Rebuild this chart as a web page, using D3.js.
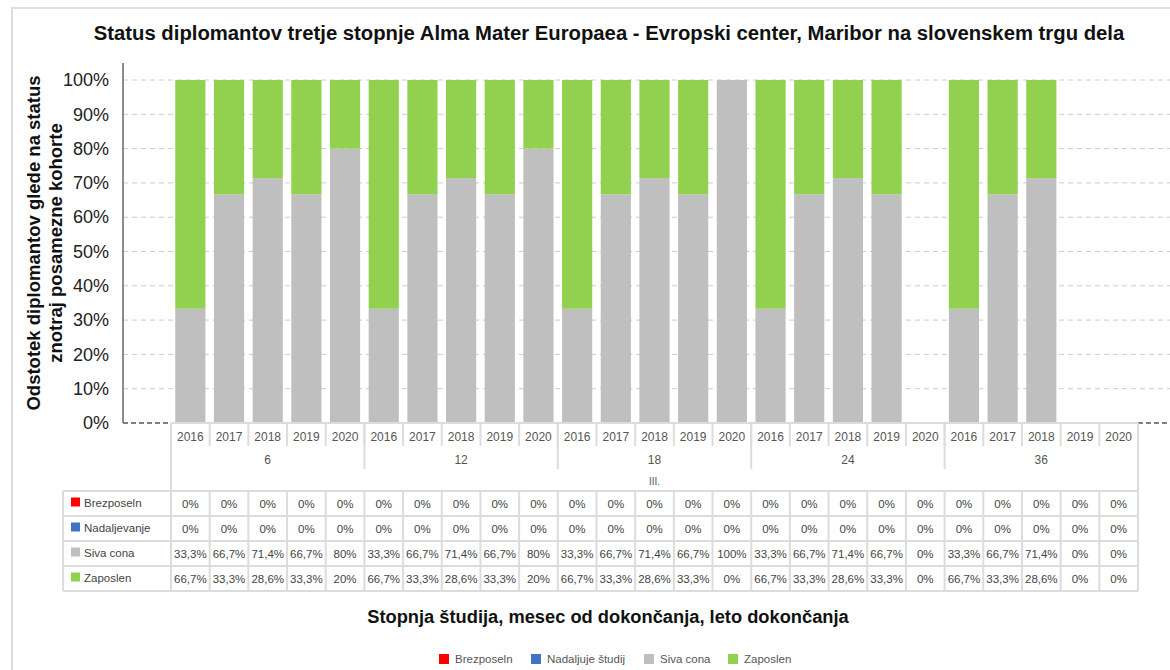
<!DOCTYPE html>
<html>
<head>
<meta charset="utf-8">
<script src="https://cdn.jsdelivr.net/npm/d3@7"></script>
<style>
  body { margin: 0; background: #fff; }
  text { font-family: "Liberation Sans", Arial, sans-serif; }
</style>
</head>
<body>
<div id="viz"></div>
<script>
// data (percent)
var level  = "III.";
var months = ["6", "12", "18", "24", "36"];
var years  = ["2016", "2017", "2018", "2019", "2020"];

var brezposeln   = [0,0,0,0,0, 0,0,0,0,0, 0,0,0,0,0, 0,0,0,0,0, 0,0,0,0,0];
var nadaljevanje = [0,0,0,0,0, 0,0,0,0,0, 0,0,0,0,0, 0,0,0,0,0, 0,0,0,0,0];
var sivaCona     = [33.3,66.7,71.4,66.7,80, 33.3,66.7,71.4,66.7,80, 33.3,66.7,71.4,66.7,100, 33.3,66.7,71.4,66.7,0, 33.3,66.7,71.4,0,0];
var zaposlen     = [66.7,33.3,28.6,33.3,20, 66.7,33.3,28.6,33.3,20, 66.7,33.3,28.6,33.3,0, 66.7,33.3,28.6,33.3,0, 66.7,33.3,28.6,0,0];

var seriesNames  = ["Brezposeln", "Nadaljevanje", "Siva cona", "Zaposlen"];
var legendNames  = ["Brezposeln", "Nadaljuje študij", "Siva cona", "Zaposlen"];
var seriesColors = ["#ff0000", "#4472c4", "#bfbfbf", "#92d050"];
var yTicks = [0, 10, 20, 30, 40, 50, 60, 70, 80, 90, 100];

var title  = "Status diplomantov tretje stopnje Alma Mater Europaea - Evropski center, Maribor na slovenskem trgu dela";
var yTitle = ["Odstotek diplomantov glede na status", "znotraj posamezne kohorte"];
var xTitle = "Stopnja študija, mesec od dokončanja, leto dokončanja";

// build rows
var cols = [];
months.forEach(function(m, mi) {
  years.forEach(function(y, yi) {
    var i = mi * years.length + yi;
    cols.push({ key: m + "-" + y, month: m, year: y,
      "Brezposeln": brezposeln[i], "Nadaljevanje": nadaljevanje[i],
      "Siva cona": sivaCona[i], "Zaposlen": zaposlen[i] });
  });
});
var seriesValues = [brezposeln, nadaljevanje, sivaCona, zaposlen];

var W = 1170, H = 670;
var svg = d3.select("#viz").append("svg")
    .attr("width", W)
    .attr("height", H);

// outer frame
svg.append("path")
    .attr("d", "M12,680 L12,8 L1180,8")
    .style("fill", "none")
    .style("stroke", "#dddddd")
    .style("stroke-width", 2);

var tableLeft = 171, tableRight = 1138;
var axisX = 123, yTop = 80, yBottom = 423;

var x = d3.scaleBand()
    .domain(cols.map(function(d) { return d.key; }))
    .range([tableLeft, tableRight])
    .paddingInner(0.22)
    .paddingOuter(0.11);
var step = x.step();
function cellLeft(k) { return x(k) - step * 0.11; }

var y = d3.scaleLinear().domain([0, 100]).range([yBottom, yTop]);

// grid lines
svg.append("g").selectAll("line")
    .data(yTicks.filter(function(t) { return t > 0; }))
    .enter().append("line")
    .attr("x1", axisX).attr("x2", W)
    .attr("y1", function(d) { return y(d); })
    .attr("y2", function(d) { return y(d); })
    .style("stroke", "#cccccc")
    .style("stroke-width", 1)
    .style("stroke-dasharray", "5,4");

// zero line, outside the table
[[axisX, tableLeft], [tableRight, W]].forEach(function(seg) {
  svg.append("line")
      .attr("x1", seg[0]).attr("x2", seg[1])
      .attr("y1", yBottom).attr("y2", yBottom)
      .style("stroke", "#555")
      .style("stroke-width", 1.5)
      .style("stroke-dasharray", "5,3");
});

// y axis
var yAxis = d3.axisLeft(y)
    .tickValues(yTicks)
    .tickSize(0)
    .tickPadding(14)
    .tickFormat(function(d) { return d + "%"; });
var gy = svg.append("g")
    .attr("transform", "translate(" + axisX + ",0)")
    .call(yAxis);
gy.select(".domain").remove();
gy.selectAll("text")
    .style("font-size", "18px")
    .style("fill", "#222")
    .style("font-family", "'Liberation Sans', Arial, sans-serif");
svg.append("line")
    .attr("x1", axisX).attr("x2", axisX)
    .attr("y1", 63).attr("y2", yBottom)
    .style("stroke", "#666")
    .style("stroke-width", 1.5);

// stacked bars
var stack = d3.stack().keys(seriesNames);
var layers = stack(cols);
svg.append("g").selectAll("g")
    .data(layers)
    .enter().append("g")
    .style("fill", function(d, i) { return seriesColors[i]; })
    .selectAll("rect")
    .data(function(d) { return d; })
    .enter().append("rect")
    .attr("x", function(d) { return x(d.data.key); })
    .attr("width", x.bandwidth())
    .attr("y", function(d) { return y(d[1]); })
    .attr("height", function(d) { return y(d[0]) - y(d[1]); });

// data table under the chart
var borderColor = "#dcdcdc";
var tg = svg.append("g");
function vline(xx, y1, y2) {
  tg.append("line").attr("x1", xx).attr("x2", xx).attr("y1", y1).attr("y2", y2)
    .style("stroke", borderColor).style("stroke-width", 2);
}
function hline(x1, x2, yy) {
  tg.append("line").attr("x1", x1).attr("x2", x2).attr("y1", yy).attr("y2", yy)
    .style("stroke", borderColor).style("stroke-width", 2);
}

var rowYear = 423, rowMonth = 446, rowLevel = 469, rowData = 491, rowH = 25;
var labelLeft = 63;

hline(tableLeft, tableRight, rowYear);
// year separators
cols.forEach(function(d, i) {
  if (i > 0) vline(cellLeft(d.key), rowYear, rowMonth);
});
// month group separators
months.forEach(function(m, mi) {
  if (mi > 0) vline(cellLeft(cols[mi * years.length].key), rowYear, rowLevel);
});
vline(tableLeft, rowYear, rowData + rowH * 4);
vline(tableRight, rowYear, rowData + rowH * 4);

tg.selectAll("text.year")
    .data(cols)
    .enter().append("text")
    .attr("class", "year")
    .attr("x", function(d) { return cellLeft(d.key) + step / 2; })
    .attr("y", 441)
    .attr("text-anchor", "middle")
    .style("font-size", "12px")
    .style("fill", "#555")
    .text(function(d) { return d.year; });

tg.selectAll("text.month")
    .data(months)
    .enter().append("text")
    .attr("class", "month")
    .attr("x", function(m, mi) { return cellLeft(cols[mi * years.length].key) + step * years.length / 2; })
    .attr("y", 464)
    .attr("text-anchor", "middle")
    .style("font-size", "12px")
    .style("fill", "#555")
    .text(function(m) { return m; });

tg.append("text")
    .attr("x", (tableLeft + tableRight) / 2)
    .attr("y", 485)
    .attr("text-anchor", "middle")
    .style("font-size", "10px")
    .style("fill", "#555")
    .text(level);

// data rows grid
for (var r = 0; r <= 4; r++) hline(labelLeft, tableRight, rowData + r * rowH);
vline(labelLeft, rowData, rowData + rowH * 4);
cols.forEach(function(d, i) {
  if (i > 0) vline(cellLeft(d.key), rowData, rowData + rowH * 4);
});

function fmt(v) { return String(v).replace(".", ",") + "%"; }

seriesNames.forEach(function(s, si) {
  var cy = rowData + si * rowH + rowH / 2;
  tg.append("rect")
      .attr("x", 71).attr("y", cy - 6)
      .attr("width", 9).attr("height", 9)
      .style("fill", seriesColors[si]);
  tg.append("text")
      .attr("x", 84).attr("y", cy + 3)
      .style("font-size", "11.5px")
      .style("fill", "#444")
      .text(s);
  tg.selectAll("text.v" + si)
      .data(seriesValues[si])
      .enter().append("text")
      .attr("class", "v" + si)
      .attr("x", function(v, i) { return cellLeft(cols[i].key) + step / 2; })
      .attr("y", cy + 4)
      .attr("text-anchor", "middle")
      .style("font-size", "11.5px")
      .style("fill", "#444")
      .text(function(v) { return fmt(v); });
});

// titles
svg.append("text")
    .attr("x", 609).attr("y", 40)
    .attr("text-anchor", "middle")
    .style("font-size", "20.3px")
    .style("font-weight", "bold")
    .style("fill", "#111")
    .text(title);

yTitle.forEach(function(t, i) {
  svg.append("text")
      .attr("transform", "translate(" + (40 + i * 22) + ",243) rotate(-90)")
      .attr("text-anchor", "middle")
      .style("font-size", "18.5px")
      .style("font-weight", "bold")
      .style("fill", "#111")
      .text(t);
});

svg.append("text")
    .attr("x", 608).attr("y", 623)
    .attr("text-anchor", "middle")
    .style("font-size", "18.3px")
    .style("font-weight", "bold")
    .style("fill", "#111")
    .text(xTitle);

// legend
var legendX = [439, 531, 644, 728];
var lg = svg.append("g").selectAll("g")
    .data(legendNames)
    .enter().append("g")
    .attr("transform", function(d, i) { return "translate(" + legendX[i] + ",654)"; });
lg.append("rect")
    .attr("width", 10).attr("height", 10)
    .style("fill", function(d, i) { return seriesColors[i]; });
lg.append("text")
    .attr("x", 16).attr("y", 9)
    .style("font-size", "11.5px")
    .style("fill", "#555")
    .text(function(d) { return d; });
</script>
</body>
</html>
